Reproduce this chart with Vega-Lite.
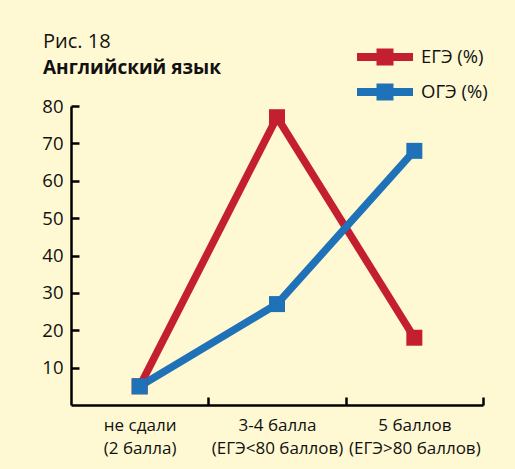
{
  "$schema": "https://vega.github.io/schema/vega-lite/v6.json",
  "width": 412,
  "height": 299,
  "autosize": {"type": "none"},
  "padding": {"left": 71, "top": 106, "right": 32, "bottom": 64},
  "background": "#FFF9D3",
  "config": {"view": {"stroke": null}},
  "title": {
    "text": "Рис. 18",
    "subtitle": "Английский язык",
    "anchor": "start",
    "frame": "group",
    "dx": -28,
    "dy": 55,
    "offset": 24,
    "font": "Open Sans",
    "fontSize": 20,
    "fontWeight": "normal",
    "color": "#111111",
    "subtitleFont": "Open Sans",
    "subtitleFontSize": 19,
    "subtitleFontWeight": "bold",
    "subtitleColor": "#111111",
    "subtitlePadding": 7
  },
  "data": {
    "values": [
      {"cat": "не сдали|(2 балла)", "series": "ЕГЭ (%)", "value": 5},
      {"cat": "3-4 балла|(ЕГЭ<80 баллов)", "series": "ЕГЭ (%)", "value": 77},
      {"cat": "5 баллов|(ЕГЭ>80 баллов)", "series": "ЕГЭ (%)", "value": 18},
      {"cat": "не сдали|(2 балла)", "series": "ОГЭ (%)", "value": 5},
      {"cat": "3-4 балла|(ЕГЭ<80 баллов)", "series": "ОГЭ (%)", "value": 27},
      {"cat": "5 баллов|(ЕГЭ>80 баллов)", "series": "ОГЭ (%)", "value": 68}
    ]
  },
  "encoding": {
    "x": {
      "field": "cat",
      "type": "nominal",
      "sort": null,
      "scale": {"type": "point", "padding": 0.5},
      "axis": {
        "title": null,
        "labelAngle": 0,
        "labelExpr": "split(datum.label, '|')",
        "labelFont": "Open Sans",
        "labelFontSize": 17,
        "labelColor": "#111111",
        "labelLineHeight": 23,
        "labelPadding": 20,
        "labelBaseline": "top",
        "labelOverlap": false,
        "tickOffset": 68.7,
        "labelOffset": -68.7,
        "tickSize": -8,
        "tickWidth": 2.5,
        "tickColor": "#000000",
        "domainColor": "#000000",
        "domainWidth": 2.5,
        "grid": false
      }
    },
    "y": {
      "field": "value",
      "type": "quantitative",
      "scale": {"domain": [0, 80], "nice": false},
      "axis": {
        "title": null,
        "values": [10, 20, 30, 40, 50, 60, 70, 80],
        "labelFont": "Open Sans",
        "labelFontSize": 18.5,
        "labelColor": "#111111",
        "labelPadding": 16,
        "tickSize": -8,
        "tickWidth": 2.5,
        "tickColor": "#000000",
        "domainColor": "#000000",
        "domainWidth": 2.5,
        "grid": false
      }
    },
    "color": {
      "field": "series",
      "type": "nominal",
      "scale": {"domain": ["ЕГЭ (%)", "ОГЭ (%)"], "range": ["#C41F30", "#1F72B8"]},
      "legend": {
        "title": null,
        "orient": "none",
        "legendX": 304,
        "legendY": -59,
        "padding": 0,
        "symbolType": "M-2.8,-0.4H2.8V0.4H-2.8Z M-0.85,-0.85H0.85V0.85H-0.85Z",
        "symbolSize": 400,
        "symbolStrokeWidth": 0,
        "symbolOpacity": 1,
        "labelFont": "Open Sans",
        "labelFontSize": 18.5,
        "labelColor": "#111111",
        "labelOffset": 26,
        "rowPadding": 15
      }
    }
  },
  "layer": [
    {
      "mark": {"type": "line", "strokeWidth": 7.5, "strokeJoin": "miter"}
    },
    {
      "mark": {"type": "point", "shape": "square", "filled": true, "size": 256, "opacity": 1}
    }
  ]
}
